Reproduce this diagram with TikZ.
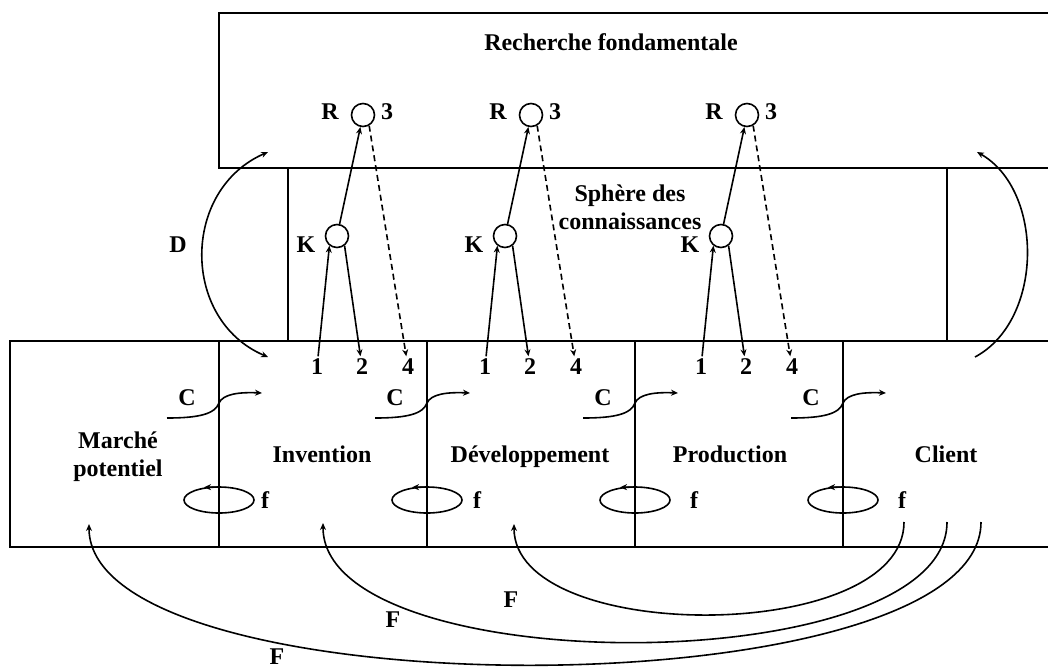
\documentclass[tikz,border=0pt]{standalone}
\usepackage{fontspec}
\setmainfont{Liberation Serif}
\usetikzlibrary{arrows.meta}
\tikzset{
    > = {Stealth[length=3.5pt, width=3pt]},
    every path/.style = {thick},
    lbl/.style = {font=\bfseries\fontsize{12}{14}\selectfont, inner sep=1pt, align=center},
    knot/.style = {circle, draw, minimum size=11.5pt, inner sep=0pt}
}

\begin{document}
\begin{tikzpicture}[x=0.5pt, y=-0.5pt]
    \useasboundingbox (0,0) rectangle (1048,670);

    \draw (1048,13) -- (219,13) -- (219,168) -- (1048,168);
    \draw (288,168) -- (288,341);
    \draw (947,168) -- (947,341);
    \draw (1048,341) -- (10,341) -- (10,547) -- (1048,547);
    \foreach \x in {219,427,635,843}
        \draw (\x,341) -- (\x,547);

    \node[lbl] (recherche) at (611,42) {Recherche fondamentale};
    \node[lbl] (sphere) at (630,207) {Sphère des\\connaissances};
    \node[lbl] (marche) at (118,457) {Marché\\potentiel};
    \node[lbl] (invention) at (322,454) {Invention};
    \node[lbl] (devel) at (530,457) {Développement};
    \node[lbl] (production) at (730,454) {Production};
    \node[lbl] (client) at (946,454) {Client};

    \foreach \i/\kx in {1/337, 2/505, 3/721} {
        \node[knot] (k\i) at (\kx,236) {};
        \node[knot] (r\i) at (\kx+26,115) {};
        \node[lbl] (kl\i) at (\kx-31,245) {K};
        \node[lbl] (rl\i) at (\kx-7,112) {R};
        \node[lbl] (t\i) at (\kx+50,112) {3};
        \node[lbl] (u\i) at (\kx-20,367) {1};
        \node[lbl] (v\i) at (\kx+25,367) {2};
        \node[lbl] (w\i) at (\kx+71,367) {4};
        \draw[->] (u\i) -- (k\i.232);
        \draw[->] (k\i.308) -- (v\i);
        \draw[->] (k\i) -- (r\i);
        \draw[->, dash pattern=on 3pt off 2pt] (r\i.300) -- (w\i);
    }

    \foreach \x/\fx in {219/46, 427/50, 635/59, 843/59} {
        \node[lbl] (c\x) at (\x-32,398) {C};
        \coordinate (cs\x) at (\x-52,418);
        \coordinate (ce\x) at (\x+43,393);
        \draw[->] (cs\x) .. controls (\x-20,418) and (\x-4,414) .. (\x,403)
            .. controls (\x+4,394) and (\x+20,392) .. (ce\x);
        \draw (\x,500) ellipse [x radius=35, y radius=13];
        \draw[->] (\x,487) -- (\x-15,487.3);
        \node[lbl] (f\x) at (\x+\fx,500) {f};
    }

    \coordinate (dtop) at (268,152);
    \coordinate (dbot) at (268,357);
    \draw[<->] (dtop) .. controls (181,190) and (181,320) .. (dbot);
    \node[lbl] (d) at (178,245) {D};
    \coordinate (etop) at (977,152);
    \coordinate (ebot) at (975,357);
    \draw[->] (ebot) .. controls (1044,320) and (1044,190) .. (etop);

    \coordinate (g1) at (904,522);
    \coordinate (g2) at (947,522);
    \coordinate (g3) at (981,522);
    \coordinate (h1) at (514,524);
    \coordinate (h2) at (323,523);
    \coordinate (h3) at (89,524);
    \draw[->] (g1) .. controls (904,645) and (514,645) .. (h1);
    \draw[->] (g2) .. controls (947,682) and (323,682) .. (h2);
    \draw[->] (g3) .. controls (981,712) and (89,712) .. (h3);
    \node[lbl] (F1) at (511,600) {F};
    \node[lbl] (F2) at (393,620) {F};
    \node[lbl] (F3) at (277,657) {F};
\end{tikzpicture}
\end{document}
